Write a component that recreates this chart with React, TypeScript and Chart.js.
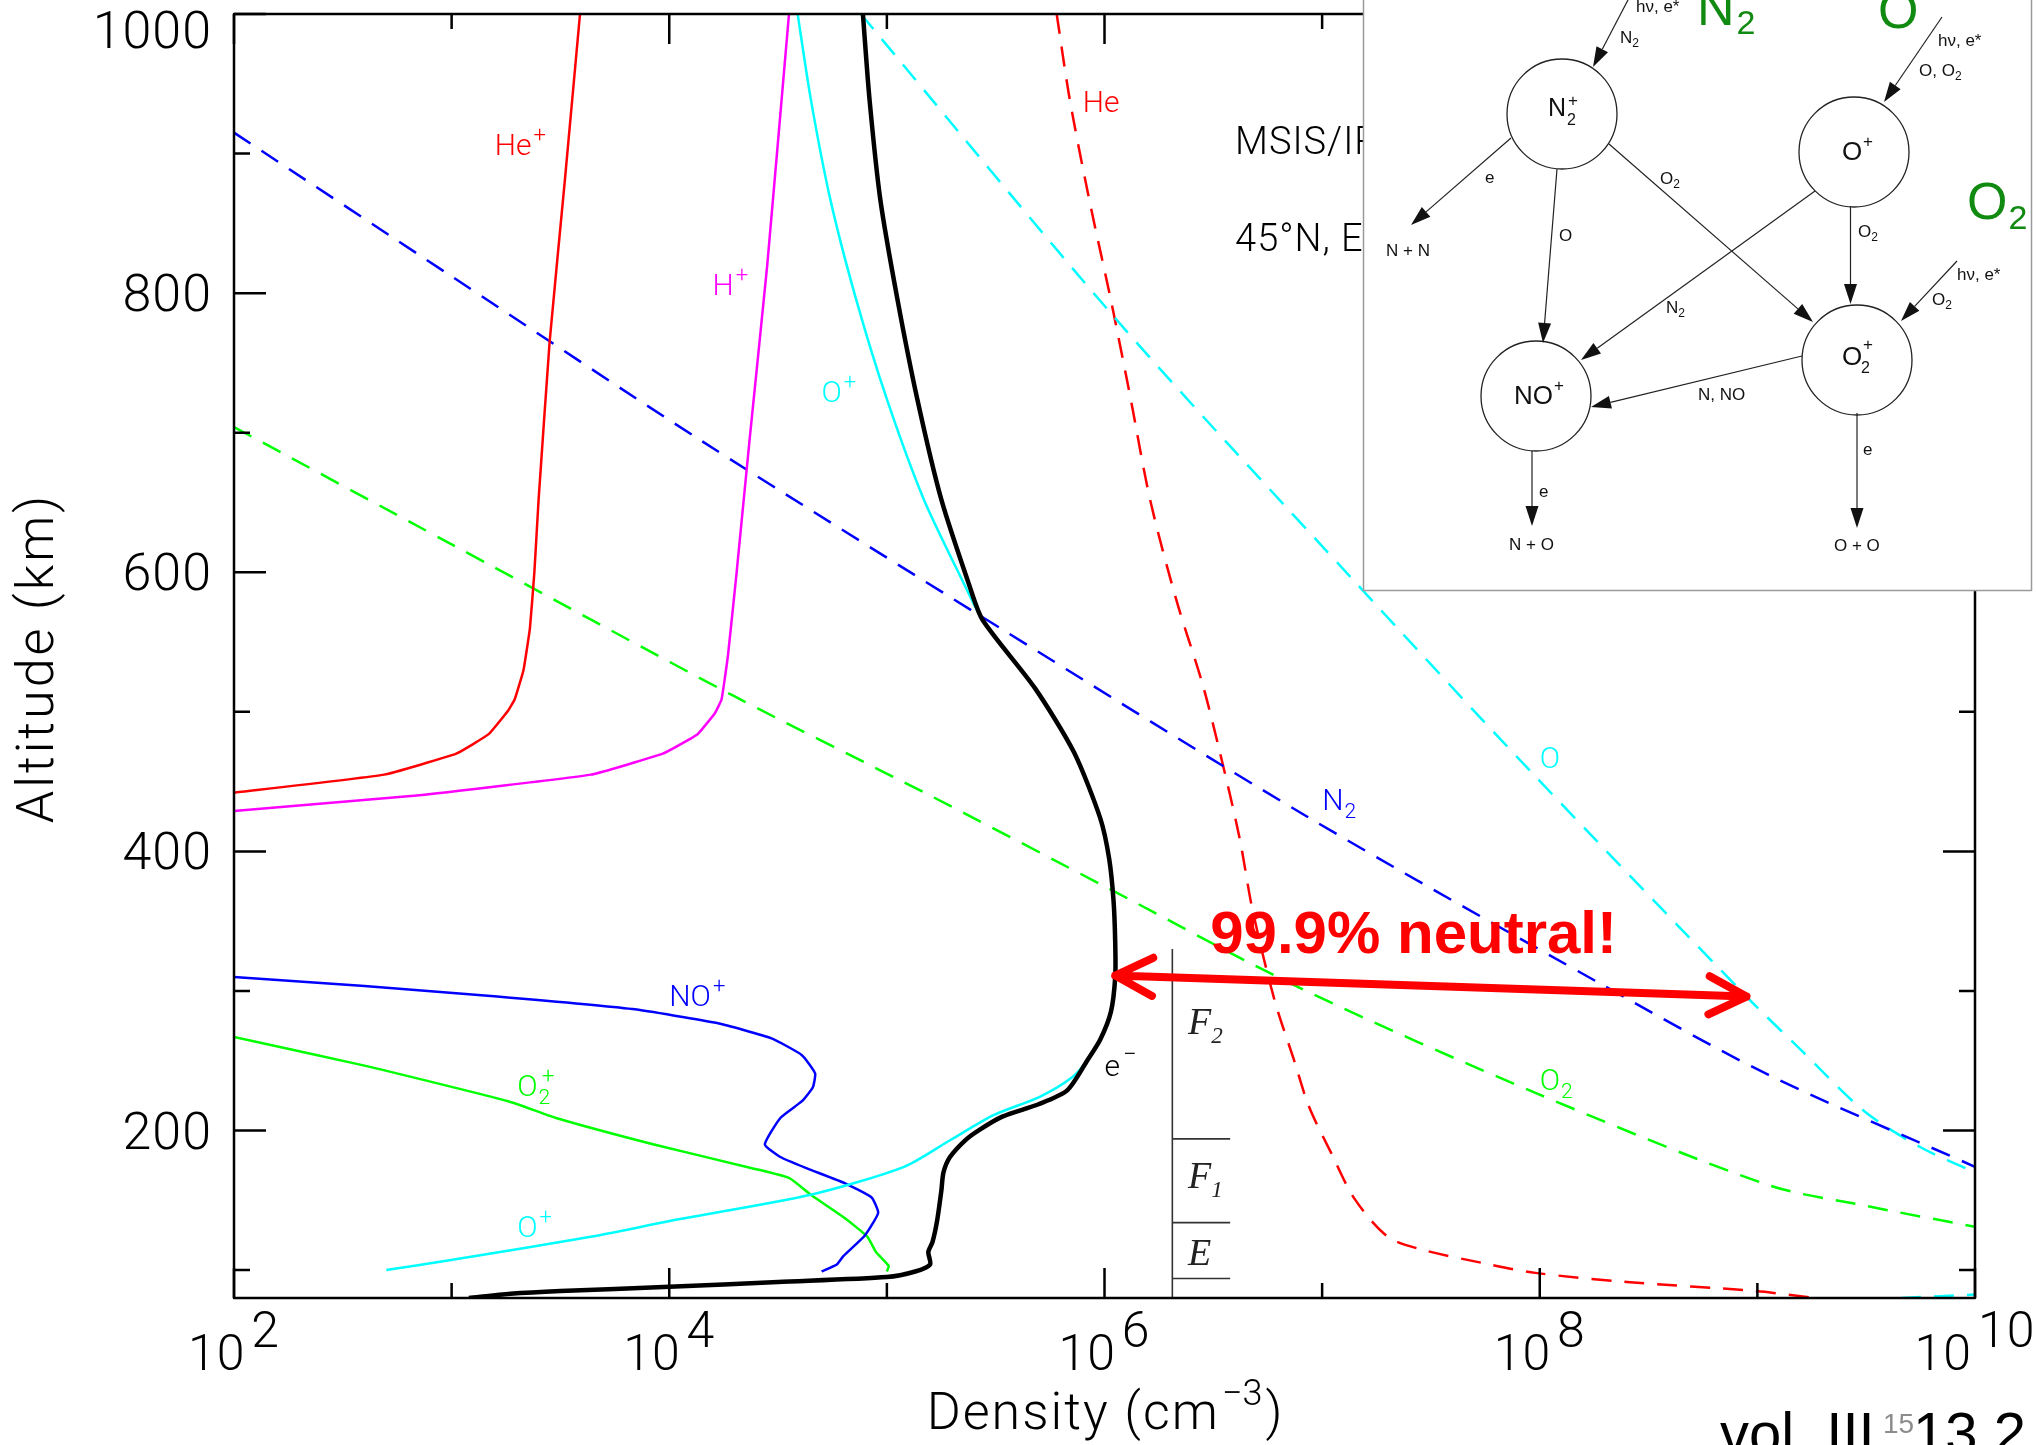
import React, { useEffect, useRef } from "react";
import { Chart, registerables } from "chart.js";

Chart.register(...registerables);

const CANVAS_W = 2036;
const CANVAS_H = 1445;

// ---------------- series: density (cm^-3) vs altitude (km) ----------------
const electronDensity = [7.76e4, 8.32e4, 9.33e4, 1.12e5, 1.38e5, 1.78e5, 2.4e5, 2.75e5, 4.79e5, 7.24e5, 9.55e5, 1.05e6, 1.1e6, 1.12e6, 1.12e6, 1.07e6, 9.55e5, 8.32e5, 6.76e5, 5.01e5, 3.39e5, 2.63e5, 2.29e5, 1.95e5, 1.82e5, 1.78e5, 1.7e5, 1.62e5, 1.55e5, 1.58e5, 1.35e5, 1.0e5, 3.16e4, 1.0e4, 3.16e3, 1.86e3, 1.2e3];
const electronAltitude = [1000, 939, 867, 795, 724, 652, 590, 566, 517, 471, 424, 395, 365, 335, 310, 285, 265, 250, 229, 219, 210, 200, 193, 181, 170, 157, 135, 120, 113, 104, 99, 95, 91.5, 88, 85, 83, 80];

const heIonDensity = [3.89e3, 3.31e3, 2.82e3, 2.51e3, 2.4e3, 2.29e3, 2.14e3, 1.95e3, 1.82e3, 1.48e3, 1.05e3, 490, 100];
const heIonAltitude = [1000, 880, 765, 652, 600, 560, 530, 509, 501, 484, 470, 455, 442];

const hIonDensity = [3.55e4, 2.82e4, 2.34e4, 2.04e4, 1.86e4, 1.74e4, 1.62e4, 1.35e4, 9.33e3, 4.37e3, 692, 100];
const hIonAltitude = [1000, 820, 695, 600, 540, 509, 499, 484, 470, 455, 440, 429];

const oIonDensity = [3.89e4, 4.47e4, 5.5e4, 7.24e4, 1.0e5, 1.48e5, 2.29e5, 2.75e5, 4.79e5, 7.24e5, 9.55e5, 1.05e6, 1.1e6, 1.12e6, 1.12e6, 1.07e6, 9.55e5, 8.32e5, 7.08e5, 5.01e5, 3.09e5, 1.95e5, 1.2e5, 4.47e4, 1.07e4, 4.79e3, 977, 501];
const oIonAltitude = [1000, 939, 867, 795, 724, 652, 590, 566, 517, 471, 424, 395, 365, 335, 310, 285, 265, 250, 238, 224, 211, 193, 174, 154, 136, 125, 107, 100];

const noIonDensity = [100, 398, 1.62e3, 6.76e3, 1.66e4, 2.95e4, 4.07e4, 4.68e4, 4.57e4, 4.07e4, 3.24e4, 2.75e4, 3.24e4, 4.27e4, 6.46e4, 8.51e4, 9.12e4, 7.94e4, 6.31e4, 5.89e4, 5.01e4];
const noIonAltitude = [310, 303.5, 296, 287, 277, 266, 254, 241, 231, 221, 209, 190, 181, 173, 162, 152, 141, 125, 110, 104, 99];

const o2IonDensity = [100, 398, 1.82e3, 3.02e3, 8.51e3, 2.4e4, 3.55e4, 4.47e4, 6.31e4, 8.13e4, 8.91e4, 1.02e5, 1.0e5];
const o2IonAltitude = [267, 246.5, 221, 209, 190, 173, 166, 154, 138, 124, 113, 103, 99];

const n2Density = [100, 1e3, 1.38e4, 3.16e5, 8.51e6, 1.91e8, 1.12e9, 1e10];
const n2Altitude = [915, 812, 695, 562, 425, 305, 240, 174];

const o2Density = [100, 1e3, 2.0e4, 1.58e5, 1e6, 7.94e6, 9.55e7, 1.12e9, 3.16e9, 1e10];
const o2Altitude = [704, 620, 511, 440, 375, 302, 227, 161, 146, 131];

const oDensity = [7.59e4, 1.15e6, 1.38e7, 9.12e7, 8.91e8, 1.58e9, 3.09e9, 5.62e9, 1e10];
const oAltitude = [1000, 780, 595, 457, 296, 258, 214, 188, 170];
const oLowDensity = [4.57e9, 1e10];
const oLowAltitude = [80, 82.5];

const heDensity = [6.03e5, 6.92e5, 8.51e5, 1.07e6, 1.32e6, 1.62e6, 2.14e6, 2.82e6, 3.39e6, 4.17e6, 4.79e6, 6.03e6, 7.41e6, 8.71e6, 1.1e7, 1.41e7, 2.0e7, 2.82e7, 5.5e7, 9.55e7, 2.51e8, 9.77e8, 1.86e9];
const heAltitude = [1000, 939, 867, 795, 724, 652, 580, 520, 471, 410, 358, 294, 251, 217, 184, 151, 124, 115, 105, 98, 91.5, 85, 80];

// ---------------- axes ----------------
const xMin = 1e2;
const xMax = 1e10;
const yMin = 80;
const yMax = 1000;
const xMajorTicks = [1e2, 1e4, 1e6, 1e8, 1e10];
const xMajorExponents = ["2", "4", "6", "8", "10"];
const xMinorTicks = [1e3, 1e5, 1e7, 1e9];
const yMajorTicks = [200, 400, 600, 800, 1000];
const yMajorLabels = ["200", "400", "600", "800", "1000"];
const yMinorTicks = [100, 300, 500, 700, 900];

// ionospheric layer boundaries (km) and marker column (density)
const layerColumnDensity = 2.05e6;
const layerTickEndDensity = 3.78e6;
const layerTopAltitude = 330;
const layerBoundaries = [194, 134, 94];

// "99.9% neutral" arrow endpoints (density, altitude)
const neutralArrowDensity = [1.12e6, 8.91e8];
const neutralArrowAltitude = [311, 296];

const RED = "#ff0000";
const MAGENTA = "#ff00ff";
const CYAN = "#00ffff";
const BLUE = "#0000ff";
const GREEN = "#00ff00";
const DKGREEN = "#118a11";
const THIN = 'Roboto, "Liberation Sans", Arial, sans-serif';
const SANS = '"Liberation Sans", Arial, Helvetica, sans-serif';
const SERIF = '"Liberation Serif", "Times New Roman", serif';

type Run = { t: string; size: number; dy?: number; dx?: number; font?: string; weight?: string; style?: string; spacing?: number };

function setRunFont(ctx: CanvasRenderingContext2D, r: Run) {
  ctx.font = `${r.style || "normal"} ${r.weight || "300"} ${r.size}px ${r.font || THIN}`;
  (ctx as any).letterSpacing = `${r.spacing || 0}px`;
}

function drawRuns(ctx: CanvasRenderingContext2D, x: number, y: number, runs: Run[], color: string, align: "left" | "center" | "right" = "left") {
  let total = 0;
  for (const r of runs) {
    setRunFont(ctx, r);
    total += (r.dx || 0) + ctx.measureText(r.t).width;
  }
  let cx = align === "center" ? x - total / 2 : align === "right" ? x - total : x;
  ctx.fillStyle = color;
  ctx.textAlign = "left";
  ctx.textBaseline = "alphabetic";
  for (const r of runs) {
    setRunFont(ctx, r);
    cx += r.dx || 0;
    ctx.fillText(r.t, cx, y + (r.dy || 0));
    cx += ctx.measureText(r.t).width;
  }
  (ctx as any).letterSpacing = "0px";
}

const sup = (t: string, size = 22, dy = -13, dx = 2): Run => ({ t, size, dy, dx });
const sub = (t: string, size = 21, dy = 8, dx = 1): Run => ({ t, size, dy, dx });

function insetArrow(ctx: CanvasRenderingContext2D, x1: number, y1: number, x2: number, y2: number) {
  const a = Math.atan2(y2 - y1, x2 - x1);
  const len = 20;
  const hw = 6.5;
  const bx = x2 - len * Math.cos(a);
  const by = y2 - len * Math.sin(a);
  ctx.beginPath();
  ctx.moveTo(x1, y1);
  ctx.lineTo(bx, by);
  ctx.stroke();
  ctx.beginPath();
  ctx.moveTo(x2, y2);
  ctx.lineTo(bx + hw * Math.sin(a), by - hw * Math.cos(a));
  ctx.lineTo(bx - hw * Math.sin(a), by + hw * Math.cos(a));
  ctx.closePath();
  ctx.fill();
}

const decorPlugin = {
  id: "decor",
  afterDatasetsDraw(chart: any) {
    const ctx: CanvasRenderingContext2D = chart.ctx;
    const xs = chart.scales.x;
    const ys = chart.scales.y;
    const X = (v: number) => xs.getPixelForValue(v);
    const Y = (v: number) => ys.getPixelForValue(v);
    const { left, right, top, bottom } = chart.chartArea;
    ctx.save();

    // ---- layer markers (F2 / F1 / E) ----
    ctx.strokeStyle = "#333";
    ctx.lineWidth = 1.6;
    ctx.beginPath();
    ctx.moveTo(X(layerColumnDensity), Y(layerTopAltitude));
    ctx.lineTo(X(layerColumnDensity), bottom);
    for (const b of layerBoundaries) {
      ctx.moveTo(X(layerColumnDensity), Y(b));
      ctx.lineTo(X(layerTickEndDensity), Y(b));
    }
    ctx.stroke();
    const lx = X(2.42e6);
    const it = { font: SERIF, style: "italic", weight: "normal" };
    drawRuns(ctx, lx, Y(269), [{ t: "F", size: 38, ...it }, { t: "2", size: 23, dy: 9, dx: 0, ...it }], "#222");
    drawRuns(ctx, lx, Y(159), [{ t: "F", size: 38, ...it }, { t: "1", size: 23, dy: 9, dx: 0, ...it }], "#222");
    drawRuns(ctx, lx, Y(104), [{ t: "E", size: 38, ...it }], "#222");

    // ---- curve labels ----
    drawRuns(ctx, X(1.58e3), Y(899), [{ t: "He", size: 30 }, sup("+")], RED);
    drawRuns(ctx, X(1.58e4), Y(799), [{ t: "H", size: 30 }, sup("+")], MAGENTA);
    drawRuns(ctx, X(5.01e4), Y(722), [{ t: "O", size: 30 }, sup("+")], CYAN);
    drawRuns(ctx, X(7.94e5), Y(930), [{ t: "He", size: 30 }], RED);
    drawRuns(ctx, X(1e8), Y(460), [{ t: "O", size: 30 }], CYAN);
    drawRuns(ctx, X(1e7), Y(430), [{ t: "N", size: 30 }, sub("2")], BLUE);
    drawRuns(ctx, X(1e8), Y(229), [{ t: "O", size: 30 }, sub("2")], GREEN);
    drawRuns(ctx, X(1e4), Y(289), [{ t: "NO", size: 30 }, sup("+")], BLUE);
    drawRuns(ctx, X(2.0e3), Y(225), [{ t: "O", size: 30 }, sub("2"), sup("+", 22, -13, -8)], GREEN);
    drawRuns(ctx, X(2.0e3), Y(124), [{ t: "O", size: 30 }, sup("+")], CYAN);
    drawRuns(ctx, X(1e6), Y(239), [{ t: "e", size: 30 }, sup("\u2212", 24, -14, 3)], "#000");

    // ---- MSIS caption (partly hidden by the inset) ----
    drawRuns(ctx, X(3.98e6), Y(900), [{ t: "MSIS/IRI", size: 38, spacing: 1 }], "#000");
    drawRuns(ctx, X(3.98e6), Y(830), [{ t: "45\u00B0N, Equinox", size: 38, spacing: 1 }], "#000");

    // ---- neutral arrow + text ----
    const ax1 = X(neutralArrowDensity[0]);
    const ay1 = Y(neutralArrowAltitude[0]);
    const ax2 = X(neutralArrowDensity[1]);
    const ay2 = Y(neutralArrowAltitude[1]);
    ctx.strokeStyle = RED;
    ctx.lineWidth = 8;
    ctx.lineCap = "round";
    ctx.lineJoin = "round";
    ctx.beginPath();
    ctx.moveTo(ax1, ay1);
    ctx.lineTo(ax2, ay2);
    const ang = Math.atan2(ay2 - ay1, ax2 - ax1);
    const hl = 42;
    const ha = (27 * Math.PI) / 180;
    for (const [tx, ty, dir] of [[ax2, ay2, ang + Math.PI], [ax1, ay1, ang]] as number[][]) {
      ctx.moveTo(tx + hl * Math.cos(dir + ha), ty + hl * Math.sin(dir + ha));
      ctx.lineTo(tx, ty);
      ctx.lineTo(tx + hl * Math.cos(dir - ha), ty + hl * Math.sin(dir - ha));
    }
    ctx.stroke();
    ctx.lineCap = "butt";
    drawRuns(ctx, X(3.06e6), Y(327), [{ t: "99.9% neutral!", size: 60, weight: "bold", font: SANS }], RED);

    // ---- axis box and ticks ----
    ctx.strokeStyle = "#000";
    ctx.lineWidth = 2.5;
    ctx.strokeRect(left, top, right - left, bottom - top);
    ctx.beginPath();
    const xt = (v: number, len: number) => {
      const px = X(v);
      ctx.moveTo(px, bottom);
      ctx.lineTo(px, bottom - len);
      ctx.moveTo(px, top);
      ctx.lineTo(px, top + len);
    };
    const yt = (v: number, len: number) => {
      const py = Y(v);
      ctx.moveTo(left, py);
      ctx.lineTo(left + len, py);
      ctx.moveTo(right, py);
      ctx.lineTo(right - len, py);
    };
    xMajorTicks.forEach((v) => xt(v, 30));
    xMinorTicks.forEach((v) => xt(v, 15));
    yMajorTicks.forEach((v) => yt(v, 32));
    yMinorTicks.forEach((v) => yt(v, 16));
    ctx.stroke();

    // tick labels
    yMajorTicks.forEach((v, i) => {
      const py = Math.max(Y(v), top + 16);
      drawRuns(ctx, left - 22, py + 18, [{ t: yMajorLabels[i], size: 52, spacing: 1 }], "#000", "right");
    });
    xMajorTicks.forEach((v, i) => {
      drawRuns(ctx, X(v), bottom + 72, [{ t: "10", size: 50, spacing: 1 }, { t: xMajorExponents[i], size: 50, dy: -23, dx: 6, spacing: 1 }], "#000", "center");
    });

    // axis titles
    drawRuns(ctx, (left + right) / 2, 1429, [{ t: "Density (cm", size: 52, spacing: 2 }, { t: "\u22123", size: 36, dy: -24, dx: 2 }, { t: ")", size: 52, dx: 3 }], "#000", "center");
    ctx.save();
    ctx.translate(40, (top + bottom) / 2 + 2);
    ctx.rotate(-Math.PI / 2);
    ctx.font = `300 52px ${THIN}`;
    (ctx as any).letterSpacing = "3px";
    ctx.fillStyle = "#000";
    ctx.textAlign = "center";
    ctx.textBaseline = "middle";
    ctx.fillText("Altitude (km)", 0, 0);
    (ctx as any).letterSpacing = "0px";
    ctx.restore();

    // ---- inset reaction diagram ----
    ctx.fillStyle = "#fff";
    ctx.fillRect(1363, -10, 669, 600);
    ctx.strokeStyle = "#9a9a9a";
    ctx.lineWidth = 1.5;
    ctx.strokeRect(1363.5, -10, 668, 600.5);

    ctx.strokeStyle = "#222";
    ctx.fillStyle = "#111";
    ctx.lineWidth = 1.3;
    const circles = [
      [1562, 114],
      [1854, 152],
      [1536, 396],
      [1857, 360],
    ];
    for (const [cx, cy] of circles) {
      ctx.beginPath();
      ctx.arc(cx, cy, 55, 0, Math.PI * 2);
      ctx.stroke();
    }
    const arrows = [
      [1629, -2, 1593, 67],
      [1942, 17, 1884, 102],
      [1957, 261, 1901, 321],
      [1511, 138, 1411, 225],
      [1557, 169, 1543, 343],
      [1609, 144, 1813, 322],
      [1815, 191, 1581, 360],
      [1850.5, 206, 1850.5, 304],
      [1802, 356, 1591, 407],
      [1532, 451, 1532, 526],
      [1857, 413, 1857, 528],
    ];
    ctx.lineWidth = 1.2;
    for (const [x1, y1, x2, y2] of arrows) insetArrow(ctx, x1, y1, x2, y2);

    // ion labels in circles
    const K = "#111";
    const n = (t: string, size: number): Run => ({ t, size, font: SANS, weight: "normal" });
    drawRuns(ctx, 1548, 116, [n("N", 25)], K);
    drawRuns(ctx, 1568, 106, [n("+", 17)], K);
    drawRuns(ctx, 1567, 125, [n("2", 16)], K);
    drawRuns(ctx, 1842, 160, [n("O", 26)], K);
    drawRuns(ctx, 1863, 147, [n("+", 17)], K);
    drawRuns(ctx, 1514, 404, [n("NO", 26)], K);
    drawRuns(ctx, 1554, 391, [n("+", 17)], K);
    drawRuns(ctx, 1842, 365, [n("O", 26)], K);
    drawRuns(ctx, 1863, 350, [n("+", 17)], K);
    drawRuns(ctx, 1861, 373, [n("2", 16)], K);

    // small reaction labels
    const s = 17;
    const s2 = (t: string): Run => ({ t, size: 12, dy: 4, dx: 0, font: SANS, weight: "normal" });
    drawRuns(ctx, 1636, 12, [n("h\u03BD, e*", s)], K);
    drawRuns(ctx, 1620, 43, [n("N", s), s2("2")], K);
    drawRuns(ctx, 1938, 46, [n("h\u03BD, e*", s)], K);
    drawRuns(ctx, 1919, 76, [n("O, O", s), s2("2")], K);
    drawRuns(ctx, 1957, 280, [n("h\u03BD, e*", s)], K);
    drawRuns(ctx, 1932, 305, [n("O", s), s2("2")], K);
    drawRuns(ctx, 1485, 183, [n("e", s)], K);
    drawRuns(ctx, 1386, 256, [n("N + N", s)], K);
    drawRuns(ctx, 1559, 241, [n("O", s)], K);
    drawRuns(ctx, 1660, 184, [n("O", s), s2("2")], K);
    drawRuns(ctx, 1666, 313, [n("N", s), s2("2")], K);
    drawRuns(ctx, 1858, 237, [n("O", s), s2("2")], K);
    drawRuns(ctx, 1698, 400, [n("N, NO", s)], K);
    drawRuns(ctx, 1539, 497, [n("e", s)], K);
    drawRuns(ctx, 1509, 550, [n("N + O", s)], K);
    drawRuns(ctx, 1863, 455, [n("e", s)], K);
    drawRuns(ctx, 1834, 551, [n("O + O", s)], K);

    // green neutral species
    drawRuns(ctx, 1697, 25, [n("N", 52), { t: "2", size: 34, dy: 9, dx: 2, font: SANS, weight: "normal" }], DKGREEN);
    drawRuns(ctx, 1878, 28, [n("O", 52)], DKGREEN);
    drawRuns(ctx, 1967, 219, [n("O", 52), { t: "2", size: 34, dy: 10, dx: 1, font: SANS, weight: "normal" }], DKGREEN);

    // ---- slide footer ----
    drawRuns(ctx, 1720, 1453, [n("vol. III", 58)], "#000");
    drawRuns(ctx, 1913, 1453, [n("13.2", 58)], "#000");
    drawRuns(ctx, 1883, 1433, [n("15", 28)], "#8c8c8c");

    ctx.restore();
  },
};

function series(label: string, dens: number[], alt: number[], color: string, width: number, dash: number[], tension: number) {
  return {
    label,
    data: dens.map((d, i) => ({ x: d, y: alt[i] })),
    borderColor: color,
    backgroundColor: color,
    borderWidth: width,
    borderDash: dash,
    pointRadius: 0,
    showLine: true,
    fill: false,
    tension,
    clip: 0,
  };
}

export default function App() {
  const canvasRef = useRef<HTMLCanvasElement | null>(null);

  useEffect(() => {
    const canvas = canvasRef.current;
    if (!canvas) return;
    const dash = [20, 13];
    const chart = new Chart(canvas, {
      type: "scatter",
      data: {
        datasets: [
          series("e-", electronDensity, electronAltitude, "#000", 4.5, [], 0.25),
          series("He+", heIonDensity, heIonAltitude, RED, 2.5, [], 0.1),
          series("H+", hIonDensity, hIonAltitude, MAGENTA, 2.5, [], 0.1),
          series("O+", oIonDensity, oIonAltitude, CYAN, 2.5, [], 0.25),
          series("NO+", noIonDensity, noIonAltitude, BLUE, 2.5, [], 0.15),
          series("O2+", o2IonDensity, o2IonAltitude, GREEN, 2.5, [], 0.15),
          series("N2", n2Density, n2Altitude, BLUE, 2.5, dash, 0.3),
          series("O2", o2Density, o2Altitude, GREEN, 2.5, dash, 0.3),
          series("O", oDensity, oAltitude, CYAN, 2.5, dash, 0.3),
          series("O low", oLowDensity, oLowAltitude, CYAN, 2.5, dash, 0),
          series("He", heDensity, heAltitude, RED, 2.5, dash, 0.3),
        ] as any,
      },
      options: {
        animation: false,
        responsive: false,
        devicePixelRatio: 1,
        events: [],
        layout: { padding: { left: 234, top: 14, right: CANVAS_W - 1975, bottom: CANVAS_H - 1298 } },
        plugins: { legend: { display: false }, tooltip: { enabled: false }, title: { display: false } },
        scales: {
          x: { type: "logarithmic", min: xMin, max: xMax, display: false },
          y: { type: "linear", min: yMin, max: yMax, display: false },
        },
      } as any,
      plugins: [decorPlugin],
    });
    return () => chart.destroy();
  }, []);

  return (
    <div style={{ position: "absolute", left: 0, top: 0, width: CANVAS_W, height: CANVAS_H, background: "#fff" }}>
      <canvas ref={canvasRef} width={CANVAS_W} height={CANVAS_H} style={{ display: "block", width: CANVAS_W, height: CANVAS_H }} />
    </div>
  );
}
